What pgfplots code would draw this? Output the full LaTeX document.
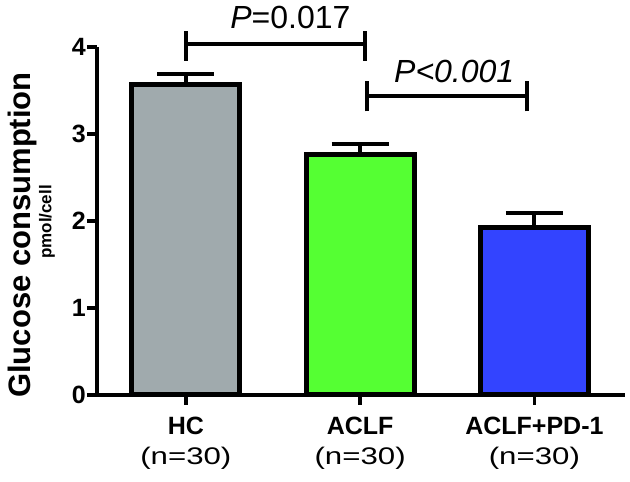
\documentclass[border=0pt]{standalone}
\usepackage{pgfplots}
\pgfplotsset{compat=1.18}
\usepackage{fontspec}
\setmainfont{Liberation Sans}
\newfontfamily\widefont[FakeStretch=1.3]{Liberation Sans}
\definecolor{hcgrey}{RGB}{160,170,173}
\definecolor{aclfgreen}{RGB}{85,255,51}
\definecolor{pdblue}{RGB}{51,68,255}
\begin{document}
\begin{tikzpicture}
\path[use as bounding box] (0,0) rectangle (630pt,482pt);
\begin{axis}[
  at={(97pt,87pt)}, anchor=south west,
  scale only axis, width=528pt, height=348pt,
  xmin=-0.51, xmax=2.52, ymin=0, ymax=4,
  axis x line*=bottom, axis y line*=left,
  axis line style={line width=4pt,-},
  clip=false,
  ybar, bar width=108pt, bar shift=0pt,
  xtick={0,1,2}, ytick={0,1,2,3,4},
  major tick length=10pt, tick align=outside,
  every tick/.style={black, line width=3.5pt},
  /pgf/number format/assume math mode=true,
  yticklabel style={font=\bfseries\fontsize{25}{30}\selectfont, inner sep=1pt},
  xticklabel style={align=center, font=\bfseries\fontsize{25}{30}\selectfont, inner sep=2pt, yshift=-10pt},
  xticklabels={{HC\\[0pt]{\mdseries\widefont\fontsize{24}{30}\selectfont (n=30)}},
               {ACLF\\[0pt]{\mdseries\widefont\fontsize{24}{30}\selectfont (n=30)}},
               {ACLF+PD-1\\[0pt]{\mdseries\widefont\fontsize{24}{30}\selectfont (n=30)}}},
  error bars/y dir=plus, error bars/y explicit,
  error bars/error bar style={line width=4pt, black},
  error bars/error mark options={line width=4pt, mark size=28.5pt, black, rotate=90},
]
\addplot[fill=hcgrey, draw=black, line width=5pt] coordinates {(0,3.57) +- (0,0.12)};
\addplot[fill=aclfgreen, draw=black, line width=5pt] coordinates {(1,2.77) +- (0,0.12)};
\addplot[fill=pdblue, draw=black, line width=5pt] coordinates {(2,1.92) +- (0,0.17)};
% significance brackets
\draw[line width=4pt] (axis cs:0,4.03) -- (axis cs:1.03,4.03);
\draw[line width=4pt] (axis cs:0,3.84) -- (axis cs:0,4.18);
\draw[line width=4pt] (axis cs:1.03,3.84) -- (axis cs:1.03,4.18);
\draw[line width=4pt] (axis cs:1.04,3.44) -- (axis cs:1.96,3.44);
\draw[line width=4pt] (axis cs:1.04,3.26) -- (axis cs:1.04,3.61);
\draw[line width=4pt] (axis cs:1.96,3.26) -- (axis cs:1.96,3.61);
\node[font=\fontsize{32}{36}\selectfont] at (axis cs:0.60,4.34) {\textit{P}=0.017};
\node[font=\fontsize{32}{36}\selectfont\itshape] at (axis cs:1.54,3.72) {P<0.001};
\end{axis}
\node[rotate=90, font=\bfseries\fontsize{31}{36}\selectfont] at (22pt,247pt) {Glucose consumption};
\node[rotate=90, font=\bfseries\fontsize{17}{20}\selectfont] at (47pt,260pt) {pmol/cell};
\end{tikzpicture}
\end{document}
